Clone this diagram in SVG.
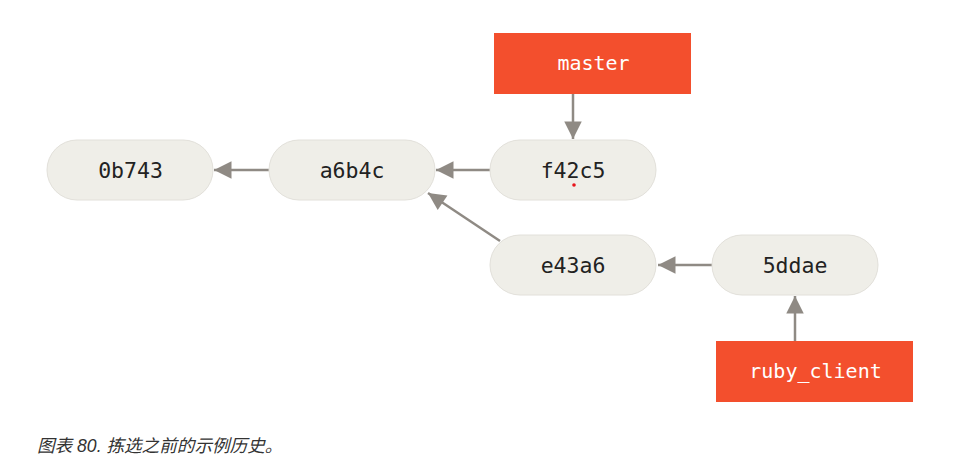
<svg xmlns="http://www.w3.org/2000/svg" width="978" height="472" viewBox="0 0 978 472">
<style>
.commit{fill:#efeee8;stroke:#e2e0da;stroke-width:1}
.ctext{font-family:"DejaVu Sans Mono","Liberation Mono",monospace;font-size:21.5px;fill:#222;text-anchor:middle}
.ref{fill:#f34f2d}
.rtext{font-family:"DejaVu Sans Mono","Liberation Mono",monospace;font-size:20px;fill:#fff;text-anchor:middle}
.conn{stroke:#8f8a84;stroke-width:2.5;fill:none}
.cap{font-family:"Liberation Sans","Noto Sans CJK SC",sans-serif;font-style:italic;font-size:17.6px;fill:#333}
</style>
<defs>
<marker id="ah" viewBox="0 0 10 10" refX="10" refY="5" markerWidth="7.5" markerHeight="7" markerUnits="strokeWidth" orient="auto">
<path d="M0,0 L10,5 L0,10 z" fill="#8f8a84"/>
</marker>
</defs>
<rect width="978" height="472" fill="#fff"/>
<g id="connectors">
<line class="conn" x1="269" y1="170" x2="214" y2="170" marker-end="url(#ah)"/>
<line class="conn" x1="490" y1="170" x2="436" y2="170" marker-end="url(#ah)"/>
<line class="conn" x1="573" y1="94" x2="573" y2="139" marker-end="url(#ah)"/>
<line class="conn" x1="500" y1="241" x2="428" y2="193" marker-end="url(#ah)"/>
<line class="conn" x1="712" y1="265" x2="658" y2="265" marker-end="url(#ah)"/>
<line class="conn" x1="795" y1="341" x2="795" y2="296" marker-end="url(#ah)"/>
</g>
<g id="c0b743"><rect class="commit" x="47" y="140" width="166" height="60" rx="30"/><text class="ctext" x="130.5" y="178">0b743</text></g>
<g id="ca6b4c"><rect class="commit" x="269" y="140" width="166" height="60" rx="30"/><text class="ctext" x="352" y="178">a6b4c</text></g>
<g id="cf42c5"><rect class="commit" x="490" y="140" width="166" height="60" rx="30"/><text class="ctext" x="573" y="178">f42c5</text><circle cx="574" cy="185" r="1.8" fill="#e8141b"/></g>
<g id="ce43a6"><rect class="commit" x="490" y="235" width="166" height="60" rx="30"/><text class="ctext" x="573" y="273">e43a6</text></g>
<g id="c5ddae"><rect class="commit" x="712" y="235" width="166" height="60" rx="30"/><text class="ctext" x="795" y="273">5ddae</text></g>
<g id="master"><rect class="ref" x="494" y="33" width="197" height="61"/><text class="rtext" x="593.5" y="70">master</text></g>
<g id="ruby_client"><rect class="ref" x="716" y="341" width="197" height="61"/><text class="rtext" x="815.5" y="378">ruby_client</text></g>
<text class="cap" x="37" y="452">图表 80. 拣选之前的示例历史。</text>
</svg>
